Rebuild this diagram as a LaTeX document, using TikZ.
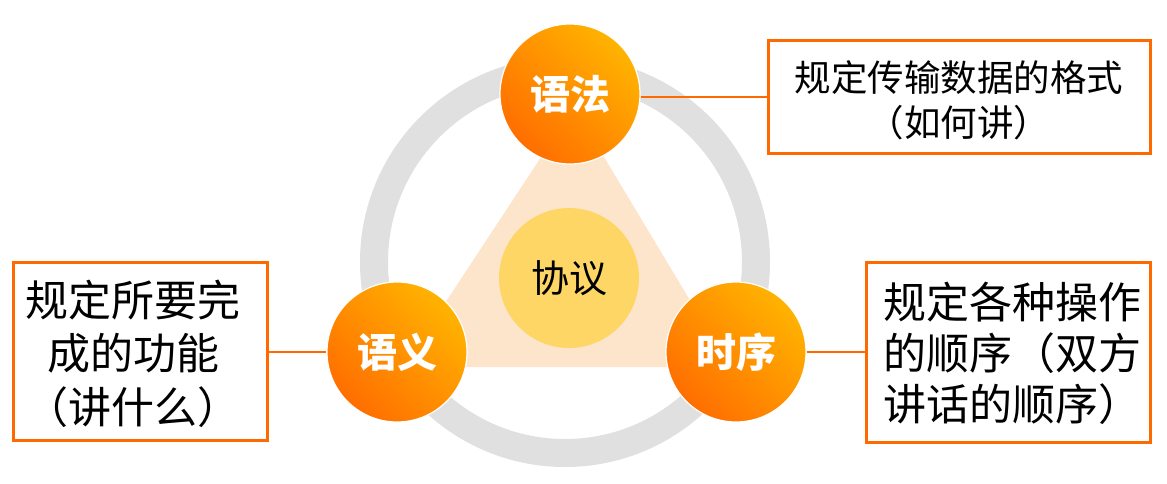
\documentclass[tikz,border=0pt]{standalone}
\usepackage{fontspec}
\setmainfont{Noto Sans CJK SC}
\definecolor{ringgray}{HTML}{E0E0E0}
\definecolor{peach}{HTML}{FDE5CC}
\definecolor{sun}{HTML}{FDD666}
\definecolor{orL}{HTML}{FFB300}
\definecolor{orD}{HTML}{FF6E00}
\definecolor{boxor}{HTML}{FF6A00}
\begin{document}
\begin{tikzpicture}[x=1pt,y=-1pt,
  ball/.style={circle, minimum size=140pt, inner sep=0pt, top color=orL, bottom color=orD, shading angle=-45,
    draw=white, line width=1.2pt, text=white, font=\fontsize{40}{48}\selectfont\bfseries},
  hub/.style={circle, minimum size=140pt, inner sep=0pt, fill=sun, text=black, font=\fontsize{38}{46}\selectfont},
  frame/.style={draw=boxor, line width=3pt, fill=white, inner sep=0pt},
  conn/.style={draw=boxor, line width=2.5pt},
  label/.style={text=black, inner sep=0pt}
  ]
\useasboundingbox (0,0) rectangle (1167,483);
\fill[white] (0,0) rectangle (1167,483);
% ring
\draw[ringgray, line width=28pt] (565,262) circle[radius=191pt];
% triangle
\fill[peach] (574,107) -- (403,367) -- (730,367) -- cycle;
% hub
\node[hub] (xy) at (569,278) {协议};
% frames
\node[frame, minimum width=382pt, minimum height=113pt] (tbox) at (959,96.5) {};
\node[frame, minimum width=254pt, minimum height=178pt] (lbox) at (140,351) {};
\node[frame, minimum width=284pt, minimum height=180pt] (rbox) at (1008,352) {};
% balls
\node[ball] (yf) at (570,94) {语法};
\node[ball] (yy) at (397,352) {语义};
\node[ball] (sx) at (736,352) {时序};
% connectors
\draw[conn] (yf.east |- 0,97) -- (tbox.west |- 0,97);
\draw[conn] (lbox.east |- yy.west) -- (yy.west);
\draw[conn] (sx.east) -- (sx.east -| rbox.west);
% texts
\node[label, align=center, font=\fontsize{36.5}{45}\selectfont] (ttext) at (959,100.5) {规定传输数据的格式\\（如何讲）};
\node[label, align=center, font=\fontsize{43}{53.5}\selectfont] (ltext) at (133,353.5) {规定所要完\\成的功能\\（讲什么）};
\node[label, align=left, font=\fontsize{43}{51}\selectfont] (rtext) at (1012,353) {规定各种操作\\的顺序（双方\\讲话的顺序）};
\end{tikzpicture}
\end{document}
